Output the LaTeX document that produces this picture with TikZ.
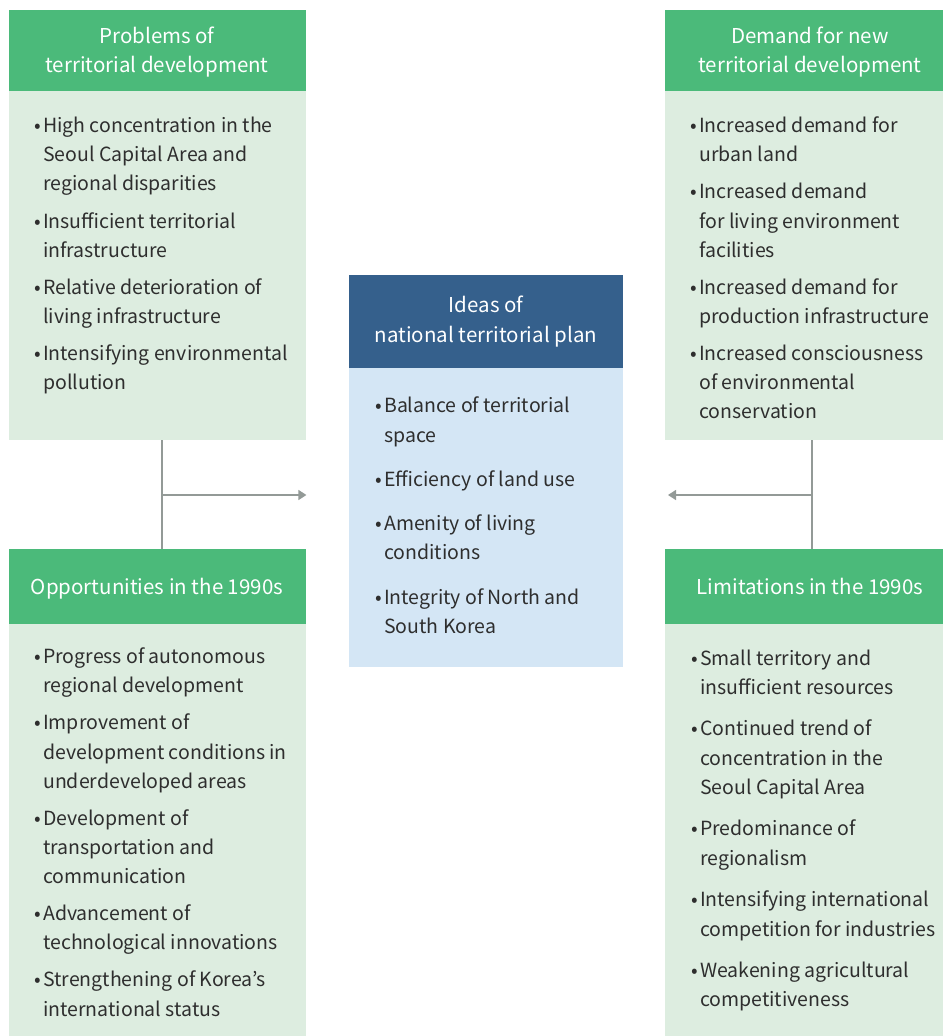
\documentclass[tikz,border=0pt]{standalone}
\usepackage{fontspec}
\setmainfont{Noto Sans CJK KR}
\usetikzlibrary{arrows.meta}
\definecolor{hgreen}{HTML}{4BBA7A}
\definecolor{bgreen}{HTML}{DDEDE0}
\definecolor{hblue}{HTML}{35608C}
\definecolor{bblue}{HTML}{D4E6F5}
\definecolor{txtc}{HTML}{2E2E2E}
\definecolor{linec}{HTML}{939A97}
\tikzset{
  boxshape/.style={draw=none,inner sep=0pt,anchor=north west},
  bodytxt/.style={inner sep=0pt,anchor=base west,text=txtc,font=\fontsize{19.5}{24}\selectfont},
  headtxt/.style={inner sep=0pt,anchor=base,text=white,font=\fontsize{20.5}{24}\selectfont},
  conn/.style={draw=linec,line width=1.3pt},
}
\newcommand\myln[4]{\node[bodytxt] (#1) at (#2,#3+7) {#4};}
\newcommand\myit[4]{\node[bodytxt] (#1) at (#2,#3+7) {\llap{\raisebox{0pt}{•}\hspace{2pt}}#4};}
\newcommand\myhd[4]{\node[headtxt] (#1) at (#2,#3+7) {#4};}
\begin{document}
\begin{tikzpicture}[x=1pt,y=-1pt]
\useasboundingbox (0,0) rectangle (943,1036);
\fill[white] (0,0) rectangle (943,1036);
% boxes
\node[boxshape,fill=hgreen,minimum width=297pt,minimum height=81pt] (tlh) at (9,10) {};
\node[boxshape,fill=bgreen,minimum width=297pt,minimum height=349pt] (tlb) at (9,91) {};
\node[boxshape,fill=hgreen,minimum width=278pt,minimum height=81pt] (trh) at (665,10) {};
\node[boxshape,fill=bgreen,minimum width=278pt,minimum height=349pt] (trb) at (665,91) {};
\node[boxshape,fill=hblue,minimum width=274pt,minimum height=93pt] (mh) at (349,275) {};
\node[boxshape,fill=bblue,minimum width=274pt,minimum height=299pt] (mb) at (349,368) {};
\node[boxshape,fill=hgreen,minimum width=297pt,minimum height=75pt] (blh) at (9,549) {};
\node[boxshape,fill=bgreen,minimum width=297pt,minimum height=412pt] (blb) at (9,624) {};
\node[boxshape,fill=hgreen,minimum width=278pt,minimum height=75pt] (brh) at (665,549) {};
\node[boxshape,fill=bgreen,minimum width=278pt,minimum height=412pt] (brb) at (665,624) {};
% connectors
\coordinate (lj) at (162,495);
\coordinate (rj) at (812,495);
\draw[conn] (lj |- tlb.south) -- (lj |- blh.north);
\draw[conn,-{Triangle[length=8pt,width=10pt]}] (lj) -- (lj -| tlb.east);
\draw[conn] (rj |- trb.south) -- (rj |- brh.north);
\draw[conn,-{Triangle[length=8pt,width=10pt]}] (rj) -- ([xshift=3pt]rj -| trb.west);
% headers
\myhd{h1}{157}{36}{Problems of}
\myhd{h2}{157}{65}{territorial development}
\myhd{h3}{810}{36}{Demand for new}
\myhd{h4}{810}{65}{territorial development}
\myhd{h5}{486}{305}{Ideas of}
\myhd{h6}{486}{335}{national territorial plan}
\myhd{h7}{157}{587}{Opportunities in the 1990s}
\myhd{h8}{810}{587}{Limitations in the 1990s}
% top-left
\myit{a1}{43}{125}{High concentration in the}
\myln{a2}{43}{154}{Seoul Capital Area and}
\myln{a3}{43}{183}{regional disparities}
\myit{a4}{43}{221}{Insufficient territorial}
\myln{a5}{43}{250}{infrastructure}
\myit{a6}{43}{287}{Relative deterioration of}
\myln{a7}{43}{316}{living infrastructure}
\myit{a8}{43}{353}{Intensifying environmental}
\myln{a9}{43}{382}{pollution}
% top-right
\myit{b1}{699}{125}{Increased demand for}
\myln{b2}{699}{154}{urban land}
\myit{b3}{699}{191}{Increased demand}
\myln{b4}{699}{221}{for living environment}
\myln{b5}{699}{250}{facilities}
\myit{b6}{699}{287}{Increased demand for}
\myln{b7}{699}{316}{production infrastructure}
\myit{b8}{699}{353}{Increased consciousness}
\myln{b9}{699}{382}{of environmental}
\myln{b10}{699}{411}{conservation}
% middle
\myit{c1}{384}{405}{Balance of territorial}
\myln{c2}{384}{435}{space}
\myit{c3}{384}{479}{Efficiency of land use}
\myit{c4}{384}{523}{Amenity of living}
\myln{c5}{384}{552}{conditions}
\myit{c6}{384}{597}{Integrity of North and}
\myln{c7}{384}{626}{South Korea}
% bottom-left
\myit{d1}{43}{656}{Progress of autonomous}
\myln{d2}{43}{685}{regional development}
\myit{d3}{43}{722}{Improvement of}
\myln{d4}{43}{752}{development conditions in}
\myln{d5}{43}{781}{underdeveloped areas}
\myit{d6}{43}{818}{Development of}
\myln{d7}{43}{847}{transportation and}
\myln{d8}{43}{876}{communication}
\myit{d9}{43}{913}{Advancement of}
\myln{d10}{43}{942}{technological innovations}
\myit{d11}{43}{979}{Strengthening of Korea’s}
\myln{d12}{43}{1009}{international status}
% bottom-right
\myit{e1}{700}{658}{Small territory and}
\myln{e2}{700}{687}{insufficient resources}
\myit{e3}{700}{728}{Continued trend of}
\myln{e4}{700}{758}{concentration in the}
\myln{e5}{700}{787}{Seoul Capital Area}
\myit{e6}{700}{828}{Predominance of}
\myln{e7}{700}{858}{regionalism}
\myit{e8}{700}{899}{Intensifying international}
\myln{e9}{700}{929}{competition for industries}
\myit{e10}{700}{970}{Weakening agricultural}
\myln{e11}{700}{999}{competitiveness}
\end{tikzpicture}
\end{document}
